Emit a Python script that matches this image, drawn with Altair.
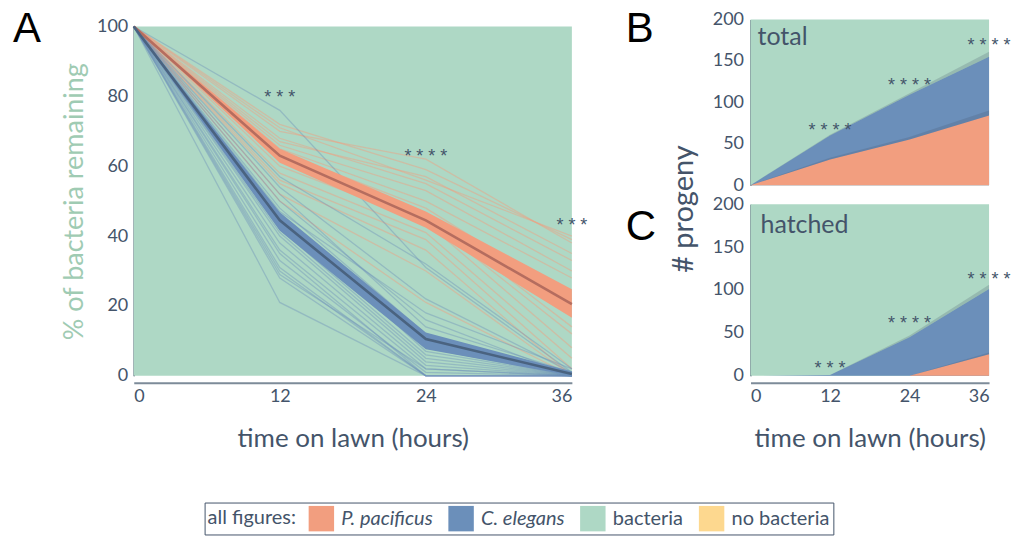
import altair as alt
import pandas as pd

HOURS = [0, 12, 24, 36]

SPECIES = ["P. pacificus", "C. elegans", "bacteria", "no bacteria"]
PALETTE = ["#f29e7f", "#6b8fba", "#aed8c5", "#fdd88f"]
ORANGE, BLUE, GREEN, YELLOW = PALETTE
INK = "#44546a"
FONT = "Lato"
STAR_FONT = "Liberation Sans"

# ---- panel A: % of bacteria remaining, one line per assay ----
PP_LINES = [
    [100, 72, 59, 39], [100, 71, 56, 40], [100, 70, 62, 38], [100, 68, 55, 33],
    [100, 67, 57, 35], [100, 66, 53, 30], [100, 65, 50, 28], [100, 64, 48, 22],
    [100, 62, 46, 14], [100, 60, 44, 8], [100, 58, 41, 5], [100, 56, 39, 2],
    [100, 55, 36, 0], [100, 52, 30, 0], [100, 50, 21, 0], [100, 63, 45, 12],
]
CE_LINES = [
    [100, 76, 31, 1], [100, 57, 32, 2], [100, 54, 22, 1], [100, 52, 14, 1],
    [100, 50, 16, 0], [100, 48, 12, 0], [100, 47, 18, 2], [100, 46, 10, 1],
    [100, 45, 7, 0], [100, 44, 8, 0], [100, 42, 6, 0], [100, 41, 5, 0],
    [100, 40, 4, 0], [100, 38, 3, 0], [100, 36, 2, 0], [100, 35, 0, 0],
    [100, 33, 1, 0], [100, 31, 0, 0], [100, 30, 0, 0], [100, 29, 2, 0],
    [100, 28, 0, 0], [100, 21, 0, 0],
]
PP_MEAN = [100, 63, 44.5, 20.5]
PP_LO = [100, 61, 42.4, 16.6]
PP_HI = [100, 65, 47, 24.8]
CE_MEAN = [100, 44.5, 10.5, 0.5]
CE_LO = [100, 41.5, 7.6, 0]
CE_HI = [100, 46.8, 12.4, 1.2]

STARS_A_LABEL = ["* * *", "* * * *", "* * *"]
STARS_A_HOUR = [12, 24, 36]
STARS_A_VALUE = [81.4, 64.7, 45]

# ---- panels B and C: # progeny ----
B_PP = [0, 31, 55, 84]
B_PP_HI = [0, 33, 58, 90]
B_CE = [0, 60, 109, 155]
B_CE_HI = [0, 61, 111, 161]
B_STARS_LABEL = ["* * * *", "* * * *", "* * * *"]
B_STARS_HOUR = [12, 24, 36]
B_STARS_VALUE = [74, 128, 177]

C_PP = [0, 0, 0, 25]
C_PP_HI = [0, 0, 0, 27]
C_CE = [0, 1, 45, 101]
C_CE_HI = [0, 1, 47, 106]
C_STARS_LABEL = ["* * *", "* * * *", "* * * *"]
C_STARS_HOUR = [12, 24, 36]
C_STARS_VALUE = [15.5, 69, 120]


def long_lines(rows, name):
    recs = []
    for i, row in enumerate(rows):
        for h, v in zip(HOURS, row):
            recs.append({"id": f"{name}{i}", "hour": h, "value": v})
    return pd.DataFrame(recs)


pp_df = long_lines(PP_LINES, "pp")
ce_df = long_lines(CE_LINES, "ce")
band_df = pd.DataFrame(
    [{"species": "P. pacificus", "hour": h, "lo": lo, "hi": hi, "mean": m}
     for h, lo, hi, m in zip(HOURS, PP_LO, PP_HI, PP_MEAN)]
    + [{"species": "C. elegans", "hour": h, "lo": lo, "hi": hi, "mean": m}
       for h, lo, hi, m in zip(HOURS, CE_LO, CE_HI, CE_MEAN)]
)
stars_a = pd.DataFrame({"hour": STARS_A_HOUR, "value": STARS_A_VALUE, "label": STARS_A_LABEL})

W_A, H_A = 439, 357
W_R, H_B, H_C = 239, 166, 172
STAR_SIZE = 18
STAR_DY = 7

x_a = alt.X(
    "h0:Q",
    scale=alt.Scale(domain=[0, 36], nice=False),
    axis=alt.Axis(values=HOURS, title="time on lawn (hours)", offset=7,
                  domainColor="#7d8b99", domainWidth=2, labelPadding=5,
                  titlePadding=20),
)
y_a = alt.Y(
    "v0:Q",
    scale=alt.Scale(domain=[0, 100], range=[H_A, 7], nice=False),
    axis=alt.Axis(values=[0, 20, 40, 60, 80, 100], title="% of bacteria remaining",
                  titleColor="#9fcbb3", titleFontSize=27, domainWidth=1.5,
                  labelPadding=6, titlePadding=8),
)

bg_a = alt.Chart(pd.DataFrame({"h0": [0], "h1": [36], "v0": [0], "v1": [100]})).mark_rect(
    color=GREEN
).encode(x=x_a, x2="h1:Q", y=y_a, y2="v1:Q")

thin_pp = alt.Chart(pp_df).mark_line(color=ORANGE, opacity=0.45, strokeWidth=1.3).encode(
    x="hour:Q", y="value:Q", detail="id:N"
)
thin_ce = alt.Chart(ce_df).mark_line(color=BLUE, opacity=0.4, strokeWidth=1.3).encode(
    x="hour:Q", y="value:Q", detail="id:N"
)

band = alt.Chart(band_df).mark_area(opacity=1).encode(
    x="hour:Q",
    y="lo:Q",
    y2="hi:Q",
    color=alt.Color(
        "species:N",
        scale=alt.Scale(domain=SPECIES, range=PALETTE),
        legend=alt.Legend(
            orient="none", legendX=71, legendY=484, direction="horizontal",
            title="all figures:", titleOrient="left", titleFontSize=20,
            titleFontWeight="normal", titleColor=INK, titleFont=FONT,
            titleBaseline="middle", titlePadding=12,
            labelFontSize=20, labelColor=INK, labelFont=FONT, labelOffset=7,
            labelFontStyle=alt.ExprRef(
                expr="datum.label == 'bacteria' || datum.label == 'no bacteria' ? 'normal' : 'italic'"
            ),
            symbolType="square", symbolSize=650, symbolStrokeWidth=0, symbolOpacity=1,
            columnPadding=15, padding=3, strokeColor=INK, fillColor="white",
            cornerRadius=0,
        ),
    ),
)

mean_pp = alt.Chart(band_df).transform_filter("datum.species == 'P. pacificus'").mark_line(
    color="#b56d5f", strokeWidth=2.6
).encode(x="hour:Q", y="mean:Q")
mean_ce = alt.Chart(band_df).transform_filter("datum.species == 'C. elegans'").mark_line(
    color="#4a6380", strokeWidth=2.6
).encode(x="hour:Q", y="mean:Q")

star_a = alt.Chart(stars_a).mark_text(
    font=STAR_FONT, fontSize=STAR_SIZE, color=INK, baseline="middle", dy=STAR_DY
).encode(x="hour:Q", y="value:Q", text="label:N")

letter_a = alt.Chart(pd.DataFrame({"t": ["A"]})).mark_text(
    font="Liberation Sans", fontSize=42, color="black", align="left", baseline="alphabetic"
).encode(x=alt.value(-121), y=alt.value(23), text="t:N")

panel_a = alt.layer(bg_a, thin_pp, thin_ce, band, mean_pp, mean_ce, star_a, letter_a).properties(
    width=W_A, height=H_A
)


def progeny_layers(pp, pp_hi, ce, ce_hi, star_lbl, star_hour, star_val,
                   show_x, label, label_xy, letter, letter_xy):
    df = pd.DataFrame({"hour": HOURS, "pp": pp, "pp_hi": pp_hi, "ce": ce, "ce_hi": ce_hi})
    stars = pd.DataFrame({"hour": star_hour, "value": star_val, "label": star_lbl})
    if show_x:
        x_axis = alt.Axis(values=HOURS, title="time on lawn (hours)", offset=7,
                          domainColor="#7d8b99", domainWidth=2, labelPadding=5,
                          titlePadding=20)
    else:
        x_axis = None
    xs = alt.X("h0:Q", scale=alt.Scale(domain=[0, 36], nice=False), axis=x_axis)
    ys = alt.Y("v0:Q", scale=alt.Scale(domain=[0, 200], nice=False),
               axis=alt.Axis(values=[0, 50, 100, 150, 200], title=None,
                             domainWidth=1.5, labelPadding=7))
    bg = alt.Chart(pd.DataFrame({"h0": [0], "h1": [36], "v0": [0], "v1": [200]})).mark_rect(
        color=GREEN
    ).encode(x=xs, x2="h1:Q", y=ys, y2="v1:Q")
    base = alt.Chart(df)
    ce_area = base.mark_area(color=BLUE).encode(x="hour:Q", y="ce:Q")
    ce_band = base.mark_area(color=INK, opacity=0.22).encode(x="hour:Q", y="ce:Q", y2="ce_hi:Q")
    pp_area = base.mark_area(color=ORANGE).encode(x="hour:Q", y="pp:Q")
    pp_band = base.mark_area(color=INK, opacity=0.22).encode(x="hour:Q", y="pp:Q", y2="pp_hi:Q")
    star = alt.Chart(stars).mark_text(
        font=STAR_FONT, fontSize=STAR_SIZE, color=INK, baseline="middle", dy=STAR_DY
    ).encode(x="hour:Q", y="value:Q", text="label:N")
    name = alt.Chart(pd.DataFrame({"t": [label]})).mark_text(
        font=FONT, fontSize=25, color=INK, align="left", baseline="alphabetic"
    ).encode(x=alt.value(label_xy[0]), y=alt.value(label_xy[1]), text="t:N")
    let = alt.Chart(pd.DataFrame({"t": [letter]})).mark_text(
        font="Liberation Sans", fontSize=42, color="black", align="left", baseline="alphabetic"
    ).encode(x=alt.value(letter_xy[0]), y=alt.value(letter_xy[1]), text="t:N")
    return [bg, ce_area, ce_band, pp_area, pp_band, star, name, let]


b_layers = progeny_layers(B_PP, B_PP_HI, B_CE, B_CE_HI, B_STARS_LABEL, B_STARS_HOUR,
                          B_STARS_VALUE, False, "total", (7, 26), "B", (-125, 23))
ylabel = alt.Chart(pd.DataFrame({"t": ["# progeny"]})).mark_text(
    font=FONT, fontSize=29, color=INK, angle=270, align="center", baseline="middle"
).encode(x=alt.value(-67), y=alt.value(190), text="t:N")
panel_b = alt.layer(*b_layers, ylabel).properties(width=W_R, height=H_B)

c_layers = progeny_layers(C_PP, C_PP_HI, C_CE, C_CE_HI, C_STARS_LABEL, C_STARS_HOUR,
                          C_STARS_VALUE, True, "hatched", (10, 29), "C", (-125, 36))
panel_c = alt.layer(*c_layers).properties(width=W_R, height=H_C)

right = alt.vconcat(panel_b, panel_c, spacing=19, bounds="flush")

chart = alt.hconcat(panel_a, right, spacing=179, bounds="flush").properties(
    padding={"left": 13, "top": 8, "right": 5, "bottom": 3}
).configure(font=FONT).configure_view(stroke=None).configure_axis(
    labelFont=FONT, titleFont=FONT, labelColor=INK, titleColor=INK,
    titleFontWeight="normal", grid=False, ticks=False, labelFontSize=18,
    titleFontSize=26, domainColor=INK,
)

chart.save("out.html", embed_options={"renderer": "svg", "actions": False})
